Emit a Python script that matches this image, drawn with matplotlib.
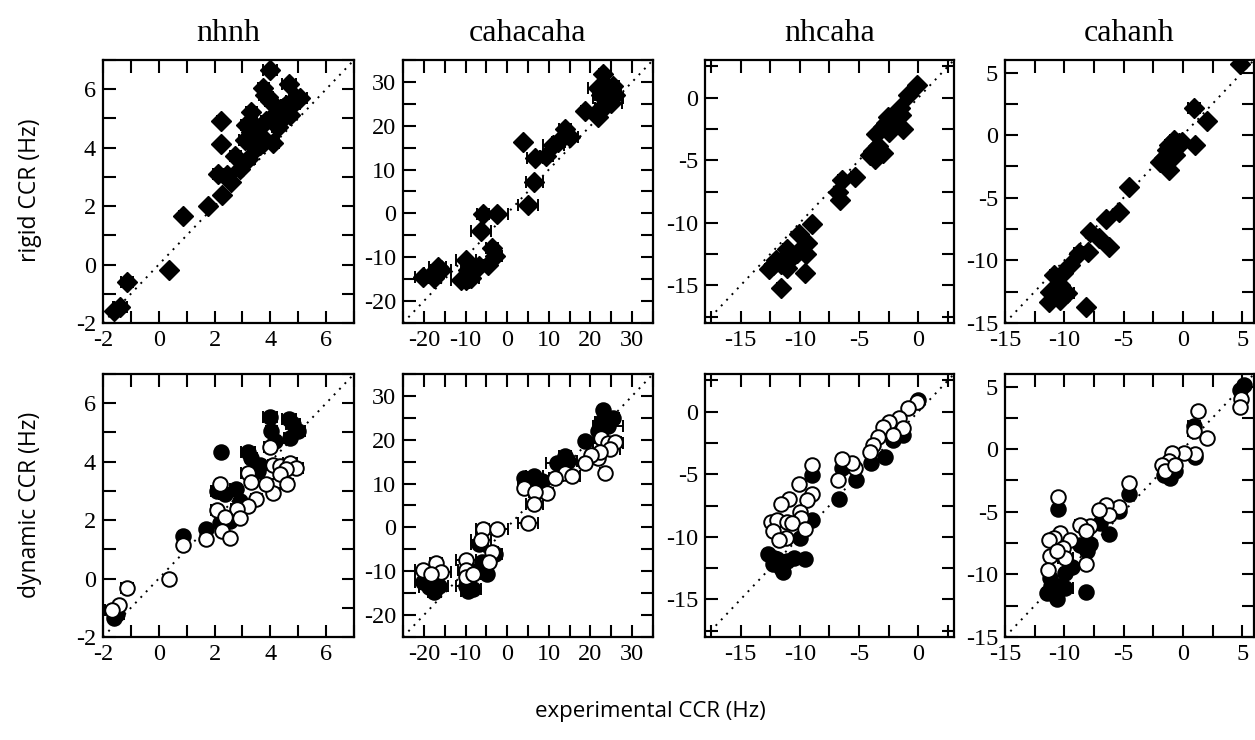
import numpy as np
import matplotlib
matplotlib.use("Agg")
import matplotlib.pyplot as plt
from matplotlib.ticker import MultipleLocator, FormatStrFormatter

plt.rcParams['axes.unicode_minus'] = False

# column titles
titles = ["nhnh", "cahacaha", "nhcaha", "cahanh"]

# axis limits and tick steps for each column (major, minor)
limits = [(-2, 7), (-25, 35), (-18, 3), (-15, 6)]
tick_steps = [(2, 1), (10, 5), (5, 2.5), (5, 2.5)]

# ---- rigid (top row), diamonds ----
x_rig_nhnh = [4.0, 4.67, 3.74, 3.8, 3.9, 5.05, 4.8, 3.32, 2.23, 2.23, 3.08, 4.1, 2.75, 3.2, 2.13,
              2.43, 2.9, 2.6, 2.27, 1.75, 0.86, 0.37, -1.14, -1.62, -1.4, 3.5, 3.62, 3.74, 3.86,
              4.1, 4.2, 4.33, 4.45, 4.57, 4.8, 4.93, 4.7, 4.27, 4.0, 3.32, 3.14, 3.5, 3.62]
y_rig_nhnh = [6.66, 6.17, 6.03, 5.8, 5.75, 5.7, 5.5, 5.23, 4.9, 4.12, 4.26, 4.15, 3.72, 3.6, 3.09,
              3.07, 3.26, 2.84, 2.38, 2.02, 1.66, -0.2, -0.6, -1.58, -1.46, 4.72, 4.44, 4.15, 4.9,
              5.0, 5.2, 4.9, 5.35, 5.46, 5.58, 5.7, 5.12, 4.72, 5.58, 4.55, 4.78, 3.98, 4.1]
e_rig_nhnh = [0.25, 0.25, 0.2, 0.2, 0.2, 0.25, 0.25, 0.2, 0.15, 0.1, 0.2, 0.2, 0.2, 0.25, 0.2,
              0.2, 0.15, 0.15, 0.1, 0.1, 0.15, 0.05, 0.2, 0.1, 0.25, 0.2, 0.2, 0.2, 0.2,
              0.2, 0.2, 0.2, 0.2, 0.2, 0.25, 0.25, 0.2, 0.2, 0.2, 0.2, 0.2, 0.25, 0.2]

x_rig_caca = [23.0, 21.8, 24.2, 25.4, 22.6, 24.2, 25.8, 25.0, 21.8, 22.6, 18.7, 23.8, 3.8, 11.1,
              12.3, 13.9, 15.1, 6.7, 9.4, 6.5, 5.0, -5.8, -2.4, -6.3, -3.6, -2.8, -4.5, -6.7,
              -9.9, -9.5, -9.9, -8.7, -9.1, -11.1, -20.2, -17.5, -16.7, -15.9, -17.9]
y_rig_caca = [31.8, 28.6, 28.6, 29.0, 27.1, 26.3, 27.1, 25.2, 22.1, 24.0, 23.4, 24.8, 16.2, 15.7,
              16.2, 19.2, 17.5, 12.7, 13.0, 7.2, 1.9, -0.2, -0.2, -4.1, -7.8, -9.8, -11.8, -12.0,
              -10.6, -12.9, -15.1, -14.8, -14.8, -15.1, -14.6, -14.8, -12.2, -12.9, -13.7]
e_rig_caca = [1.0, 2.5, 2.0, 1.5, 1.5, 3.5, 1.5, 2.5, 1.0, 1.5, 1.0, 1.5, 0.5, 2.5,
              1.5, 1.5, 2.0, 2.0, 1.5, 2.0, 2.5, 1.5, 2.5, 2.5, 1.5, 1.5, 1.0, 2.0,
              2.5, 1.5, 2.0, 2.0, 1.5, 2.5, 2.0, 1.5, 2.0, 2.5, 2.0]

x_rig_nhca = [-0.08, -0.92, -1.56, -1.47, -1.33, -2.58, -2.7, -2.44, -3.0, -2.17, -3.56, -3.42,
              -3.0, -3.83, -3.7, -4.1, -5.36, -6.47, -6.8, -6.6, -8.97, -9.44, -9.6, -9.4, -10.1,
              -10.2, -11.1, -11.3, -11.6, -12.3, -12.0, -11.1, -12.6, -10.8, -11.6]
y_rig_nhca = [1.03, 0.24, -0.87, -1.4, -2.5, -1.53, -2.06, -2.72, -2.33, -2.33, -2.94, -3.9,
              -4.44, -4.3, -4.9, -4.6, -6.38, -6.56, -7.5, -8.15, -10.13, -12.5, -13.97, -11.6, -10.9,
              -12.4, -12.1, -12.8, -13.3, -13.4, -13.0, -13.6, -13.7, -12.9, -15.2]
e_rig_nhca = [0.2, 0.2, 0.2, 0.2, 0.2, 0.2, 0.2, 0.2, 0.2, 0.2, 0.2, 0.2,
              0.2, 0.2, 0.2, 0.2, 0.3, 0.3, 0.2, 0.2, 0.3, 0.2, 0.1, 0.2, 0.2,
              0.2, 0.3, 0.3, 0.3, 0.3, 0.3, 0.3, 0.3, 0.3, 0.3]

x_rig_cahn = [4.86, 0.97, 2.0, 1.03, -0.78, -0.36, -1.2, -0.08, -0.64, -1.33, -1.9, -1.47, -1.2,
              -1.6, -4.58, -5.42, -6.47, -7.8, -7.1, -6.2, -8.75, -8.0, -9.5, -10.1, -10.9, -10.4,
              -11.2, -10.6, -11.3, -10.4, -9.8, -8.2]
y_rig_cahn = [5.72, 2.18, 1.12, -0.8, -0.4, -0.66, -0.8, -0.53, -1.6, -1.2, -2.13, -2.4, -2.8,
              -1.86, -4.18, -6.12, -6.7, -7.7, -8.2, -8.9, -9.44, -9.3, -10.4, -11.0, -11.2, -12.0,
              -12.5, -12.8, -13.3, -13.2, -12.6, -13.75]
e_rig_cahn = [0.2, 0.5, 0.2, 0.3, 0.3, 0.3, 0.3, 0.3, 0.3, 0.3, 0.3, 0.3, 0.3,
              0.3, 0.2, 0.2, 0.2, 0.3, 0.2, 0.2, 0.4, 0.3, 0.3, 0.3, 0.3, 0.3,
              0.3, 0.3, 0.3, 0.3, 0.6, 0.2]

# ---- dynamic (bottom row), filled circles ----
x_dynf_nhnh = [3.98, 4.67, 4.99, 4.8, 4.69, 4.04, 4.15, 2.23, 3.2, 3.32, 3.62, 3.56, 2.76, 2.07,
               2.37, 2.9, 2.55, 2.19, 1.71, 0.86, -1.62, -1.5]
y_dynf_nhnh = [5.54, 5.47, 5.05, 5.28, 4.82, 5.05, 4.71, 4.33, 4.33, 4.14, 3.9, 3.68, 3.05, 3.0,
               2.88, 2.65, 1.97, 1.91, 1.71, 1.45, -1.35, -1.2]
e_dynf_nhnh = [0.25, 0.25, 0.25, 0.25, 0.2, 0.2, 0.2, 0.15, 0.25, 0.2, 0.2, 0.2, 0.2, 0.2,
               0.2, 0.15, 0.15, 0.1, 0.1, 0.15, 0.1, 0.25]

# ---- dynamic (bottom row), open circles ----
x_dyno_nhnh = [3.98, 4.1, 4.33, 4.69, 4.93, 4.57, 4.33, 4.6, 4.1, 3.86, 3.2, 3.32, 3.5, 3.2,
               2.79, 2.9, 2.19, 2.07, 2.39, 2.27, 2.55, 1.71, 0.88, 0.35, -1.14, -1.44, -1.68]
y_dyno_nhnh = [4.5, 3.9, 3.85, 3.97, 3.79, 3.74, 3.57, 3.22, 2.94, 3.22, 3.62, 3.31, 2.71, 2.48,
               2.39, 2.08, 3.22, 2.33, 2.11, 1.62, 1.39, 1.34, 1.14, -0.03, -0.32, -0.89, -1.06]
e_dyno_nhnh = [0.2, 0.2, 0.2, 0.25, 0.25, 0.2, 0.2, 0.2, 0.2, 0.2, 0.25, 0.2, 0.2, 0.2,
               0.2, 0.15, 0.15, 0.2, 0.2, 0.1, 0.15, 0.1, 0.15, 0.05, 0.2, 0.1, 0.25]

x_dynf_caca = [23.0, 25.4, 22.6, 21.8, 24.2, 18.7, 11.9, 13.9, 14.7, 4.0, 6.5, 8.3, 5.2, -6.7,
               -2.8, -6.0, -4.8, -6.7, -9.9, -8.3, -9.5, -20.2, -17.5, -18.7, -16.3]
y_dynf_caca = [26.9, 24.9, 24.0, 22.1, 23.2, 19.8, 14.8, 16.3, 15.2, 11.3, 11.7, 10.5, 10.5, -3.7,
               -6.0, -7.9, -10.6, -9.8, -13.3, -14.1, -14.5, -12.5, -14.8, -13.7, -13.3]
e_dynf_caca = [1.0, 1.5, 1.5, 1.0, 3.5, 1.0, 2.5, 1.5, 2.0, 0.5, 2.0, 1.5, 2.5, 2.0,
               1.5, 1.5, 1.0, 2.0, 2.5, 2.0, 1.5, 2.0, 1.5, 2.5, 2.0]

x_dyno_caca = [22.6, 24.2, 25.8, 24.6, 21.8, 23.4, 22.2, 20.2, 18.7, 13.9, 15.5, 11.5, 9.5, 4.0,
               6.7, 6.5, 5.0, -5.9, -2.4, -6.3, -3.6, -4.4, -9.9, -9.9, -9.8, -8.3, -20.2,
               -17.1, -15.9, -18.3]
y_dyno_caca = [20.4, 19.2, 19.4, 17.8, 15.9, 12.5, 17.1, 16.5, 14.6, 12.5, 11.7, 11.3, 7.8, 9.0,
               8.0, 5.4, 1.1, -0.4, -0.4, -2.9, -5.6, -7.9, -7.5, -9.8, -11.4, -10.6, -9.7,
               -8.1, -10.2, -10.6]
e_dyno_caca = [1.5, 3.5, 1.5, 2.5, 1.0, 1.0, 1.5, 1.0, 1.0, 1.5, 2.0, 1.5, 1.5, 0.5,
               1.5, 2.0, 2.5, 1.5, 2.5, 2.5, 1.5, 1.0, 2.5, 2.0, 1.5, 2.0, 2.0,
               1.5, 2.5, 2.0]

x_dynf_nhca = [0.0, -1.33, -2.17, -2.86, -3.97, -5.28, -6.47, -6.67, -8.97, -8.97, -10.0, -9.53,
               -12.2, -11.6, -11.1, -12.7, -11.9, -11.4, -10.5, -12.3]
y_dynf_nhca = [0.93, -1.86, -2.26, -3.59, -4.12, -5.45, -4.52, -7.0, -5.05, -8.64, -10.1, -11.75,
               -11.7, -12.5, -11.97, -11.4, -11.8, -12.77, -11.7, -12.2]
e_dynf_nhca = [0.2, 0.2, 0.2, 0.2, 0.2, 0.3, 0.3, 0.2, 0.3, 0.2, 0.2, 0.2,
               0.3, 0.3, 0.3, 0.3, 0.3, 0.3, 0.3, 0.3]

x_dyno_nhca = [-0.08, -0.92, -1.6, -1.33, -2.44, -3.0, -2.17, -3.42, -3.83, -4.1, -5.36, -5.64,
               -6.47, -6.75, -8.97, -10.1, -8.97, -9.4, -10.9, -11.6, -10.0, -9.94, -12.4, -11.9,
               -12.3, -11.1, -10.7, -11.2, -11.8, -9.53]
y_dyno_nhca = [0.8, 0.27, -0.53, -1.33, -0.8, -1.2, -1.86, -2.0, -2.66, -3.19, -4.52, -4.12,
               -3.78, -5.45, -4.26, -5.77, -6.6, -7.05, -6.97, -7.4, -7.98, -8.46, -8.78, -8.64,
               -9.57, -8.78, -8.9, -10.1, -10.24, -9.39]
e_dyno_nhca = [0.2, 0.2, 0.2, 0.2, 0.2, 0.2, 0.2, 0.2, 0.2, 0.2, 0.3, 0.2,
               0.3, 0.2, 0.3, 0.2, 0.3, 0.2, 0.3, 0.3, 0.2, 0.2, 0.3, 0.3,
               0.3, 0.3, 0.3, 0.3, 0.3, 0.2]

x_dynf_cahn = [5.19, 4.78, 0.97, 1.03, -1.06, -1.6, -0.64, -4.58, -5.36, -6.25, -7.0, -7.86, -8.7,
               -8.1, -10.5, -9.39, -9.94, -11.2, -10.6, -9.9, -11.5, -10.6, -11.1, -8.2]
y_dynf_cahn = [5.13, 4.73, 1.81, -0.59, -2.31, -2.05, -1.78, -3.59, -4.97, -6.76, -5.9, -7.58, -7.63,
               -8.16, -4.79, -9.44, -9.9, -10.3, -10.96, -11.1, -11.5, -12.0, -10.96, -11.4]
e_dynf_cahn = [0.2, 0.2, 0.5, 0.3, 0.3, 0.3, 0.3, 0.2, 0.2, 0.2, 0.2, 0.3, 0.4,
               0.3, 0.2, 0.3, 0.3, 0.3, 0.3, 0.6, 0.3, 0.3, 0.3, 0.2]

x_dyno_cahn = [4.92, 4.78, 1.25, 0.97, 2.0, 1.03, 0.06, -0.92, -1.19, -1.75, -1.47, -0.64, -4.58,
               -5.42, -6.47, -6.25, -7.1, -7.8, -8.7, -8.14, -10.5, -10.4, -10.9, -11.3, -9.5,
               -10.1, -11.2, -9.9, -10.6, -11.4, -8.2]
y_dyno_cahn = [4.02, 3.4, 3.06, 1.41, 0.88, -0.4, -0.32, -0.32, -0.98, -1.25, -1.78, -1.25, -2.71,
               -4.63, -4.44, -5.24, -4.89, -6.12, -6.04, -6.57, -3.86, -6.7, -7.1, -7.23, -7.23,
               -7.9, -8.56, -8.7, -8.16, -9.63, -9.18]
e_dyno_cahn = [0.2, 0.2, 0.2, 0.5, 0.2, 0.3, 0.3, 0.3, 0.3, 0.3, 0.3, 0.3, 0.2,
               0.2, 0.2, 0.2, 0.2, 0.3, 0.4, 0.3, 0.2, 0.3, 0.3, 0.3, 0.4,
               0.3, 0.3, 0.6, 0.3, 0.3, 0.2]

rigid = [(x_rig_nhnh, y_rig_nhnh, e_rig_nhnh), (x_rig_caca, y_rig_caca, e_rig_caca),
         (x_rig_nhca, y_rig_nhca, e_rig_nhca), (x_rig_cahn, y_rig_cahn, e_rig_cahn)]
dyn_filled = [(x_dynf_nhnh, y_dynf_nhnh, e_dynf_nhnh), (x_dynf_caca, y_dynf_caca, e_dynf_caca),
              (x_dynf_nhca, y_dynf_nhca, e_dynf_nhca), (x_dynf_cahn, y_dynf_cahn, e_dynf_cahn)]
dyn_open = [(x_dyno_nhnh, y_dyno_nhnh, e_dyno_nhnh), (x_dyno_caca, y_dyno_caca, e_dyno_caca),
            (x_dyno_nhca, y_dyno_nhca, e_dyno_nhca), (x_dyno_cahn, y_dyno_cahn, e_dyno_cahn)]

# layout in pixels
W, H = 1255, 740
lefts = [103, 403, 705, 1005]
widths = [251, 250, 249, 249]
tops = [60, 374]
height = 263

serif = "Liberation Serif"
sans = "Open Sans"

fig = plt.figure(figsize=(W / 100, H / 100), dpi=100)

def setup_axes(ax, j):
    lo, hi = limits[j]
    ax.set_xlim(lo, hi)
    ax.set_ylim(lo, hi)
    ax.plot([lo, hi], [lo, hi], color='black', lw=1.4, ls=(0, (1, 3)), zorder=1)
    mj, mn = tick_steps[j]
    for axis in (ax.xaxis, ax.yaxis):
        axis.set_major_locator(MultipleLocator(mj))
        axis.set_minor_locator(MultipleLocator(mn))
        axis.set_major_formatter(FormatStrFormatter('%d'))
    ax.tick_params(which='both', direction='in', top=True, right=True,
                   length=9, width=1.5, labelsize=17.5, pad=5)
    for lab in ax.get_xticklabels() + ax.get_yticklabels():
        lab.set_fontfamily(serif)
    for sp in ax.spines.values():
        sp.set_linewidth(1.6)

for r in range(2):
    for j in range(4):
        rect = [lefts[j] / W, 1 - (tops[r] + height) / H, widths[j] / W, height / H]
        ax = fig.add_axes(rect)
        setup_axes(ax, j)
        if r == 0:
            x, y, e = rigid[j]
            ax.errorbar(x, y, xerr=e, fmt='D', ms=10, mfc='black', mec='black',
                        ecolor='black', elinewidth=1.4, capsize=4, capthick=1.4, zorder=3)
            ax.set_title(titles[j], fontsize=23, fontfamily=serif, pad=14)
        else:
            x, y, e = dyn_filled[j]
            ax.errorbar(x, y, xerr=e, fmt='o', ms=10.5, mfc='black', mec='black', mew=1.4,
                        ecolor='black', elinewidth=1.4, capsize=4, capthick=1.4, zorder=3)
            x, y, e = dyn_open[j]
            ax.errorbar(x, y, xerr=e, fmt='o', ms=10.5, mfc='white', mec='black', mew=1.4,
                        ecolor='black', elinewidth=1.4, capsize=4, capthick=1.4, zorder=4)

fig.text(30 / W, 1 - 190 / H, "rigid CCR (Hz)", rotation=90, ha='center', va='center',
         fontsize=16.5, fontfamily=sans)
fig.text(30 / W, 1 - 505 / H, "dynamic CCR (Hz)", rotation=90, ha='center', va='center',
         fontsize=16.5, fontfamily=sans)
fig.text(650 / W, 1 - 712 / H, "experimental CCR (Hz)", ha='center', va='center',
         fontsize=16, fontfamily=sans)

fig.savefig("out.png", dpi=100)
